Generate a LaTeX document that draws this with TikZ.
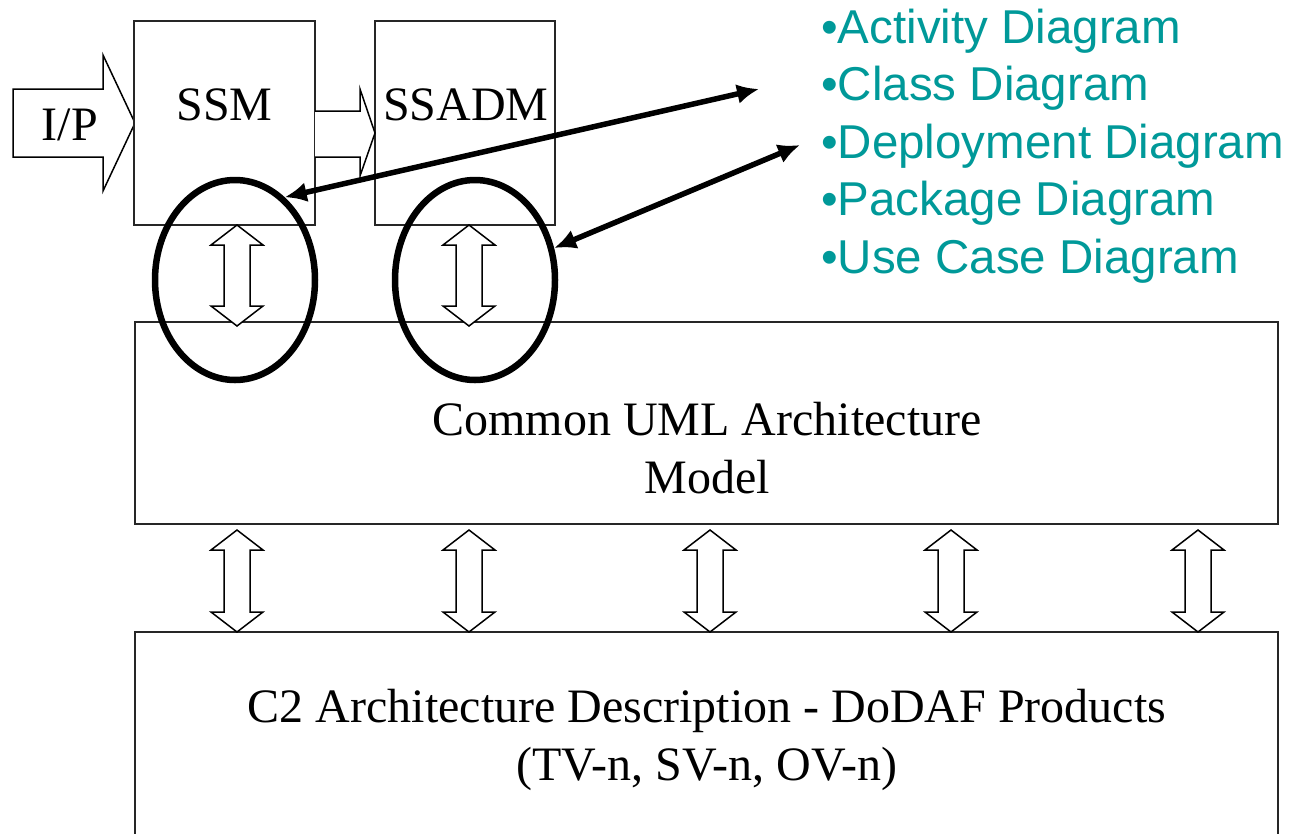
\documentclass[tikz,border=0pt]{standalone}
\usepackage{fontspec}
\setmainfont{Liberation Serif}
\newfontfamily\arialf{Liberation Sans}
\usetikzlibrary{arrows.meta,shapes.geometric}
\definecolor{listteal}{RGB}{0,153,153}
\newcommand\vdblarrow[3]{%
  \draw[blockarr] (#1-13,#2+20) -- (#1-26,#2+20) -- (#1,#2) -- (#1+26,#2+20) -- (#1+13,#2+20)
    -- (#1+13,#3-20) -- (#1+26,#3-20) -- (#1,#3) -- (#1-26,#3-20) -- (#1-13,#3-20) -- cycle;}
\begin{document}
\begin{tikzpicture}[x=1pt,y=-1pt,
  box/.style={draw=black!85,line width=1.5pt,fill=white,inner sep=0pt,outer sep=0pt,anchor=north west},
  blockarr/.style={draw=black,line width=1.5pt,fill=white,line join=miter},
  ring/.style={draw=black,ellipse,line width=6.5pt,inner sep=0pt,minimum width=160pt,minimum height=200pt},
  biarrow/.style={line width=5.5pt,{Latex[length=22pt,width=20pt]}-{Latex[length=22pt,width=20pt]}},
  serif/.style={font=\fontsize{48pt}{58pt}\selectfont,inner sep=0pt,anchor=base},
  item/.style={font=\arialf\fontsize{47.5pt}{57.5pt}\selectfont,text=listteal,inner sep=0pt,anchor=base west}]
\clip (0,0) rectangle (1290,833);
\fill[white] (0,0) rectangle (1290,833);
% input arrow
\draw[blockarr] (13,89) -- (103,89) -- (103,55) -- (135,123) -- (103,191) -- (103,157) -- (13,157) -- cycle;
\node[serif] (ip) at (70,140) {I/P};
% boxes
\node[box,minimum width=181pt,minimum height=204pt] (ssm) at (134,21) {};
\node[box,minimum width=180pt,minimum height=204pt] (ssadm) at (375,21) {};
\node[box,minimum width=1143pt,minimum height=202pt] (uml) at (135,322) {};
\node[box,minimum width=1143pt,minimum height=260pt] (c2) at (135,632) {};
\node[serif] (ssmt) at (224.5,120) {SSM};
\node[serif] (ssadmt) at (466,120) {SSADM};
\node[serif] (umlt1) at (707,435) {Common UML Architecture};
\node[serif] (umlt2) at (707,493) {Model};
\node[serif] (c2t1) at (707,722) {C2 Architecture Description - DoDAF Products};
\node[serif] (c2t2) at (707,780) {(TV-n, SV-n, OV-n)};
% arrow SSM -> SSADM
\draw[blockarr] (ssm.east |- 0,111) -- (360,111) -- (360,89) -- (ssadm.west |- 0,133) -- (360,176) -- (360,157) -- (ssm.east |- 0,157);
% double block arrows
\vdblarrow{237}{225}{326}
\vdblarrow{469}{225}{326}
\vdblarrow{237}{530}{632}
\vdblarrow{469}{530}{632}
\vdblarrow{710}{530}{632}
\vdblarrow{951}{530}{632}
\vdblarrow{1198}{530}{632}
% ellipses
\node[ring] (e1) at (235,280) {};
\node[ring] (e2) at (475,280) {};
% list
\node[item] (l1) at (821,43) {•Activity Diagram};
\node[item] (l2) at (821,100.5) {•Class Diagram};
\node[item] (l3) at (821,158) {•Deployment Diagram};
\node[item] (l4) at (821,215.5) {•Package Diagram};
\node[item] (l5) at (821,273) {•Use Case Diagram};
% pointer arrows
\coordinate (pa) at (759,89);
\coordinate (pb) at (800,145);
\draw[biarrow] (e1.59) -- (pa);
\draw[biarrow] (e2.22) -- (pb);
\end{tikzpicture}
\end{document}
